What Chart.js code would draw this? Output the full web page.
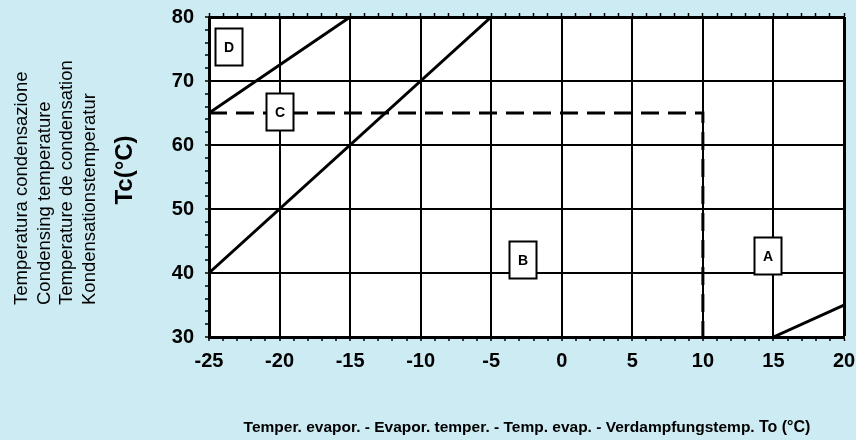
<!DOCTYPE html>
<html>
<head>
<meta charset="utf-8">
<script src="https://cdn.jsdelivr.net/npm/chart.js@4.4.1/dist/chart.umd.min.js"></script>
<style>
    html, body { margin: 0; padding: 0; background: #cdebf3; }
    #wrap { width: 856px; height: 440px; position: relative; }
</style>
</head>
<body>
<div id="wrap"><canvas id="chart-envelope"></canvas></div>
<script>
// ─── Data ───

const xTicks = [-25, -20, -15, -10, -5, 0, 5, 10, 15, 20];
const yTicks = [30, 40, 50, 60, 70, 80];

// envelope boundary lines (To, Tc)
const lineDx = [-25, -15];
const lineDy = [65, 80];
const lineBx = [-25, -5];
const lineBy = [40, 80];
const limitX = [-25, 10, 10];
const limitY = [65, 65, 30];
const lineAx = [15, 20];
const lineAy = [30, 35];

// region labels
const regionNames = ['A', 'B', 'C', 'D'];
const regionX = [14.6, -2.75, -19.95, -23.55];
const regionY = [42.6, 42.1, 65.1, 75.3];

const yTitleLines = [
    'Temperatura condensazione',
    'Condensing temperature',
    'Temperature de condensation',
    'Kondensationstemperatur'
];
const yTitleUnit = 'Tc(°C)';
const xTitleText = 'Temper. evapor. - Evapor. temper. - Temp. evap. - Verdampfungstemp. ';
const xTitleUnit = 'To (°C)';

const FONT = '"Liberation Sans", Arial, Helvetica, sans-serif';
Chart.defaults.font.family = FONT;
Chart.defaults.color = '#000';

const toPoints = (xs, ys) => xs.map((x, i) => ({ x, y: ys[i] }));

// ─── Frame, labels and titles ───

const envelopeDecor = {
    id: 'envelopeDecor',
    beforeDraw(chart) {
        const { ctx, chartArea: a } = chart;
        ctx.save();
        ctx.fillStyle = '#ffffff';
        ctx.fillRect(a.left, a.top, a.right - a.left, a.bottom - a.top);
        ctx.restore();
    },
    afterDraw(chart) {
        const ctx = chart.ctx;
        const sx = chart.scales.x;
        const sy = chart.scales.y;
        ctx.save();

        // region boxes
        regionNames.forEach((name, i) => {
            const cx = Math.round(sx.getPixelForValue(regionX[i]));
            const cy = Math.round(sy.getPixelForValue(regionY[i]));
            ctx.fillStyle = '#fff';
            ctx.strokeStyle = '#000';
            ctx.lineWidth = 2;
            ctx.fillRect(cx - 13.5, cy - 18.5, 27, 37);
            ctx.strokeRect(cx - 13.5, cy - 18.5, 27, 37);
            ctx.fillStyle = '#000';
            ctx.font = 'bold 14px ' + FONT;
            ctx.textAlign = 'center';
            ctx.textBaseline = 'middle';
            ctx.fillText(name, cx, cy + 1);
        });

        // y title (rotated)
        const baseX = [27, 50, 72, 95];
        ctx.fillStyle = '#000';
        ctx.textBaseline = 'alphabetic';
        yTitleLines.forEach((t, i) => {
            ctx.save();
            ctx.translate(baseX[i], 305);
            ctx.rotate(-Math.PI / 2);
            ctx.font = '18.5px ' + FONT;
            ctx.textAlign = 'left';
            ctx.fillText(t, 0, 0);
            ctx.restore();
        });
        ctx.save();
        ctx.translate(132, 170);
        ctx.rotate(-Math.PI / 2);
        ctx.font = 'bold 24px ' + FONT;
        ctx.textAlign = 'center';
        ctx.fillText(yTitleUnit, 0, 0);
        ctx.restore();

        // x title
        ctx.textAlign = 'left';
        ctx.font = 'bold 15.5px ' + FONT;
        const w1 = ctx.measureText(xTitleText).width;
        ctx.font = 'bold 16px ' + FONT;
        const w2 = ctx.measureText(xTitleUnit).width;
        const startX = 527 - (w1 + w2) / 2;
        ctx.font = 'bold 15.5px ' + FONT;
        ctx.fillText(xTitleText, startX, 432);
        ctx.font = 'bold 16px ' + FONT;
        ctx.fillText(xTitleUnit, startX + w1, 432);

        ctx.restore();
    }
};

// ─── Chart ───

const lineStyle = {
    showLine: true,
    fill: false,
    borderColor: '#000',
    borderWidth: 3,
    pointRadius: 0,
    tension: 0
};

// fixed axis boxes so the plot area lands where the original sits
const fixHeight = h => scale => {
    scale.height = h;
    scale.paddingLeft = 0;
    scale.paddingRight = 0;
};
const fixWidth = w => scale => {
    scale.width = w;
    scale.paddingTop = 0;
    scale.paddingBottom = 0;
};

new Chart(document.getElementById('chart-envelope'), {
    type: 'scatter',
    data: {
        datasets: [
            { ...lineStyle, label: 'D', data: toPoints(lineDx, lineDy) },
            { ...lineStyle, label: 'B', data: toPoints(lineBx, lineBy) },
            { ...lineStyle, label: 'limit', data: toPoints(limitX, limitY), borderDash: [18, 9] },
            { ...lineStyle, label: 'A', data: toPoints(lineAx, lineAy) }
        ]
    },
    options: {
        responsive: true,
        maintainAspectRatio: false,
        animation: false,
        layout: { padding: { left: 0, right: 12, top: 0, bottom: 0 } },
        plugins: {
            legend: { display: false },
            tooltip: { enabled: false }
        },
        scales: {
            x: {
                type: 'linear',
                position: 'bottom',
                min: xTicks[0],
                max: xTicks[xTicks.length - 1],
                afterFit: fixHeight(103),
                border: { color: '#000', width: 3 },
                grid: {
                    color: ctx => xTicks.includes(ctx.tick.value) ? '#000' : 'rgba(0,0,0,0)',
                    lineWidth: ctx => ctx.tick.value === xTicks[xTicks.length - 1] ? 3 : 2,
                    tickColor: '#000',
                    tickWidth: 1.5,
                    tickLength: 4
                },
                ticks: {
                    stepSize: 1,
                    autoSkip: false,
                    maxRotation: 0,
                    minRotation: 0,
                    padding: 8,
                    font: { size: 20, weight: 'bold' },
                    callback: v => xTicks.includes(v) ? String(v) : ''
                }
            },
            xTop: {
                type: 'linear',
                position: 'top',
                min: xTicks[0],
                max: xTicks[xTicks.length - 1],
                afterFit: fixHeight(17),
                border: { color: '#000', width: 3 },
                grid: {
                    drawOnChartArea: false,
                    tickColor: '#000',
                    tickWidth: 1.5,
                    tickLength: 4
                },
                ticks: {
                    stepSize: 1,
                    autoSkip: false,
                    maxRotation: 0,
                    callback: () => ''
                }
            },
            y: {
                type: 'linear',
                position: 'left',
                min: yTicks[0],
                max: yTicks[yTicks.length - 1],
                afterFit: fixWidth(209),
                border: { color: '#000', width: 3 },
                grid: {
                    color: ctx => yTicks.includes(ctx.tick.value) ? '#000' : 'rgba(0,0,0,0)',
                    lineWidth: 2,
                    tickColor: '#000',
                    tickWidth: 1.5,
                    tickLength: 4
                },
                ticks: {
                    stepSize: 2,
                    autoSkip: false,
                    padding: 11,
                    font: { size: 20, weight: 'bold' },
                    callback: v => yTicks.includes(v) ? String(v) : ''
                }
            }
        }
    },
    plugins: [envelopeDecor]
});
</script>
</body>
</html>
